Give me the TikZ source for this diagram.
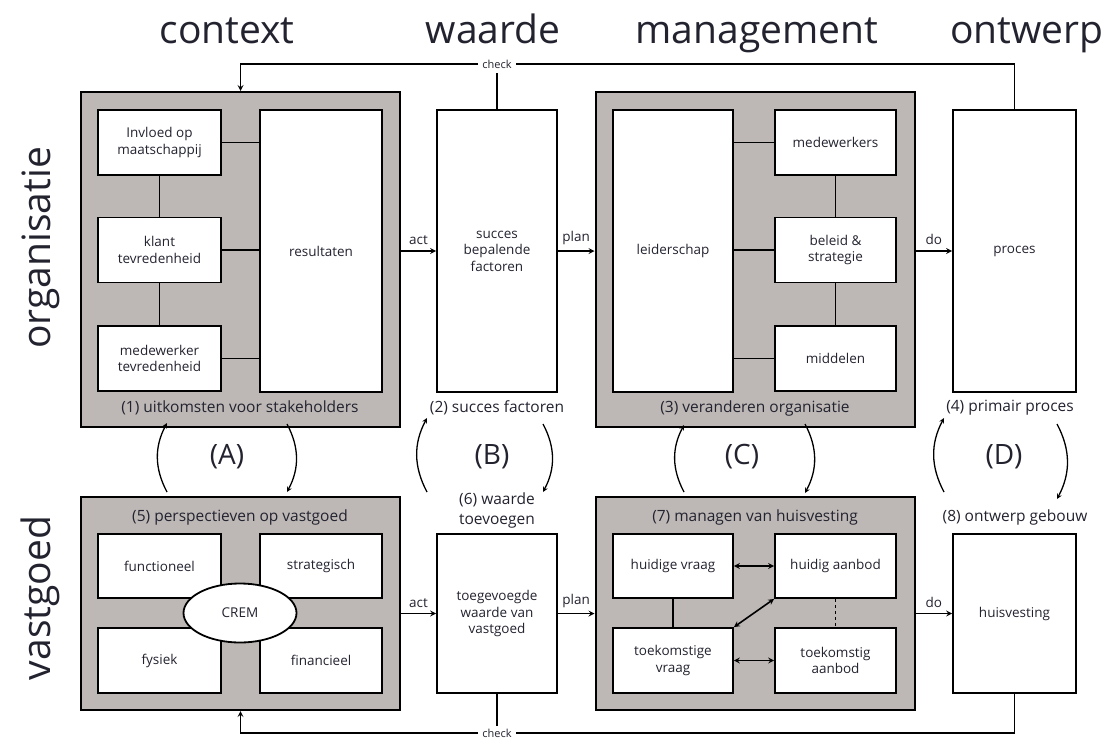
\documentclass[tikz,border=0pt]{standalone}
\usepackage{fontspec}
\setmainfont{Open Sans}
\usepackage{tikz}
\usetikzlibrary{arrows,shapes,positioning,calc}
\definecolor{grijs}{RGB}{189,184,181}
\definecolor{inkt}{RGB}{35,35,48}
\tikzset{
groep/.style={draw,line width=2pt,fill=grijs,minimum width=319pt,inner sep=0pt},
blok/.style={draw,line width=1.8pt,fill=white,align=center,inner sep=0pt,text=inkt,font=\fontsize{13.5}{16.5}\selectfont},
kop/.style={font=\fontsize{39}{44}\selectfont,text=inkt,anchor=base},
onder/.style={font=\fontsize{15.5}{20}\selectfont,text=inkt,align=center},
klein/.style={font=\fontsize{13.5}{16}\selectfont,text=inkt},
chk/.style={font=\fontsize{11}{13}\selectfont,text=inkt,inner xsep=4pt,inner ysep=5pt},
lijn/.style={line width=1.6pt},
>=stealth
}
\begin{document}
\begin{tikzpicture}[x=1pt,y=-1pt]
\fill[white] (0,0) rectangle (1112,742);
\useasboundingbox (0,0) rectangle (1112,742);
\node[kop] (hcontext) at (227,43) {context};
\node[kop] (hwaarde) at (493,43) {waarde};
\node[kop] (hmanagement) at (757,43) {management};
\node[kop] (hontwerp) at (1027,43) {ontwerp};
\node[kop,rotate=90] (horganisatie) at (50,248) {organisatie};
\node[kop,rotate=90] (hvastgoed) at (50,598) {vastgoed};

\node[groep,minimum height=335pt] (g1) at (240.5,259.5) {};
\node[groep,minimum height=335pt] (g3) at (755,259.5) {};
\node[groep,minimum height=213pt] (g5) at (240.5,603.5) {};
\node[groep,minimum height=213pt] (g7) at (755,603.5) {};

\node[blok,minimum width=123pt,minimum height=65pt] (invloed) at (159.5,142.5) {Invloed op\\maatschappij};
\node[blok,minimum width=123pt,minimum height=65pt] (klant) at (159.5,250) {klant\\tevredenheid};
\node[blok,minimum width=123pt,minimum height=65pt] (medewerker) at (159.5,358.5) {medewerker\\tevredenheid};
\node[blok,minimum width=122pt,minimum height=282pt] (resultaten) at (321,251) {resultaten};
\node[onder] (l1) at (240,408) {(1) uitkomsten voor stakeholders};
\node[blok,minimum width=120pt,minimum height=282pt] (b2) at (497,251) {succes\\bepalende\\factoren};
\node[onder] (l2) at (497,408) {(2) succes factoren};
\node[blok,minimum width=120pt,minimum height=282pt] (leiderschap) at (673,251) {leiderschap};
\node[blok,minimum width=121pt,minimum height=65pt] (medewerkers) at (835.5,142.5) {medewerkers};
\node[blok,minimum width=121pt,minimum height=65pt] (beleid) at (835.5,250) {beleid \&\\strategie};
\node[blok,minimum width=121pt,minimum height=65pt] (middelen) at (835.5,358.5) {middelen};
\node[onder] (l3) at (755,408) {(3) veranderen organisatie};
\node[blok,minimum width=123pt,minimum height=282pt] (b4) at (1014.5,251) {proces};
\node[onder] (l4) at (1010,408) {(4) primair proces};

\node[onder] (l5) at (240,517) {(5) perspectieven op vastgoed};
\node[blok,minimum width=123pt,minimum height=64pt] (functioneel) at (159.5,566) {functioneel};
\node[blok,minimum width=122pt,minimum height=64pt] (strategisch) at (321,566) {strategisch};
\node[blok,minimum width=123pt,minimum height=65pt] (fysiek) at (159.5,660.5) {fysiek};
\node[blok,minimum width=122pt,minimum height=65pt] (financieel) at (321,660.5) {financieel};
\node[blok,ellipse,minimum width=113pt,minimum height=59pt] (crem) at (240,613) {CREM};
\node[onder] (l6) at (497,510) {(6) waarde\\toevoegen};
\node[blok,minimum width=120pt,minimum height=159pt] (b6) at (497,613.5) {toegevoegde\\waarde van\\vastgoed};
\node[onder] (l7) at (755,517) {(7) managen van huisvesting};
\node[blok,minimum width=120pt,minimum height=64pt] (hvraag) at (673,566) {huidige vraag};
\node[blok,minimum width=121pt,minimum height=64pt] (haanbod) at (835.5,566) {huidig aanbod};
\node[blok,minimum width=120pt,minimum height=65pt] (tvraag) at (673,660.5) {toekomstige\\vraag};
\node[blok,minimum width=121pt,minimum height=65pt] (taanbod) at (835.5,660.5) {toekomstig\\aanbod};
\node[onder] (l8) at (1015,517) {(8) ontwerp gebouw};
\node[blok,minimum width=123pt,minimum height=159pt] (b8) at (1014.5,613.5) {huisvesting};

\draw[lijn] (invloed.east) -- (invloed.east -| resultaten.west);
\draw[lijn] (klant.east) -- (klant.east -| resultaten.west);
\draw[lijn] (medewerker.east) -- (medewerker.east -| resultaten.west);
\draw[lijn] (invloed.south) -- (klant.north);
\draw[lijn] (klant.south) -- (medewerker.north);
\draw[lijn] (medewerkers.west) -- (medewerkers.west -| leiderschap.east);
\draw[lijn] (beleid.west) -- (beleid.west -| leiderschap.east);
\draw[lijn] (middelen.west) -- (middelen.west -| leiderschap.east);
\draw[lijn] (medewerkers.south) -- (beleid.north);
\draw[lijn] (beleid.south) -- (middelen.north);

\draw[lijn,<->] (hvraag.east) -- (haanbod.west);
\draw[lijn,<->] (tvraag.east) -- (taanbod.west);
\draw[lijn] (hvraag.south) -- (tvraag.north);
\draw[lijn,dashed] (haanbod.south) -- (taanbod.north);
\draw[lijn,<->] (tvraag.north east) -- (haanbod.south west);

\draw[lijn,->] (g1.east |- b2) -- node[klein,above=2pt]{act} (b2.west);
\draw[lijn,->] (b2.east) -- node[klein,above=2pt]{plan} (g3.west |- b2);
\draw[lijn,->] (g3.east |- b4) -- node[klein,above=2pt]{do} (b4.west);
\draw[lijn,->] (g5.east |- b6) -- node[klein,above=2pt]{act} (b6.west);
\draw[lijn,->] (b6.east) -- node[klein,above=2pt]{plan} (g7.west |- b6);
\draw[lijn,->] (g7.east |- b8) -- node[klein,above=2pt]{do} (b8.west);

\node[chk] (chk1) at (497,64) {check};
\draw[lijn] (b4.north) |- (chk1.east);
\draw[lijn,->] (chk1.west) -| (g1.north);
\draw[lijn] (b2.north) -- (chk1.south);
\node[chk,inner ysep=3pt] (chk2) at (497,733) {check};
\draw[lijn] (b8.south) |- (chk2.east);
\draw[lijn,->] (chk2.west) -| (g5.south);
\draw[lijn] (b6.south) -- (chk2.north);

\foreach \lx/\rx/\lt/\rb/\mx/\n in {167/287/423/492/227/A,427/543/418/492/492/B,684/805/425/493/742/C,944/1057/418/499/1004/D}{
\coordinate (\n1) at (\lx,492);
\coordinate (\n2) at (\lx,\lt);
\coordinate (\n3) at (\rx,424);
\coordinate (\n4) at (\rx,\rb);
\draw[line width=1.3pt,->] (\n1) to[bend left=28] (\n2);
\draw[line width=1.3pt,->] (\n3) to[bend left=28] (\n4);
\node[font=\fontsize{28}{32}\selectfont,text=inkt] (k\n) at (\mx,457) {(\n)};
}
\end{tikzpicture}
\end{document}
